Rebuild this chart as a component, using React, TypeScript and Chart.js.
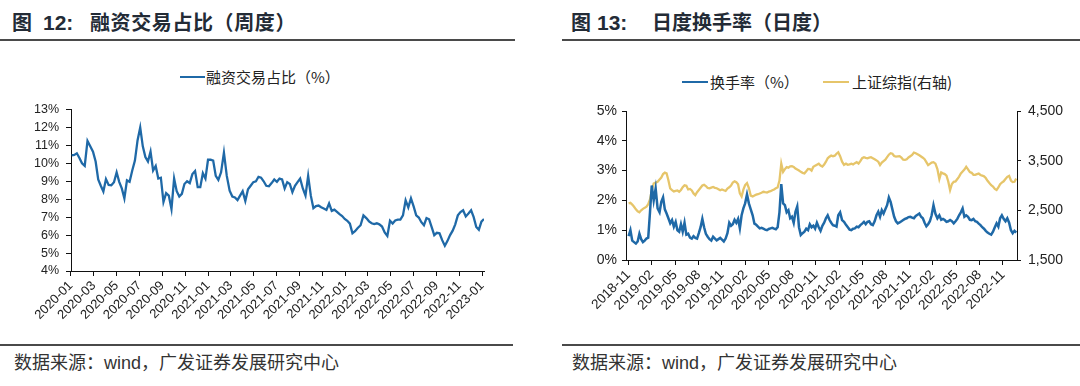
import React, { useEffect, useRef } from 'react';
import { Chart, registerables } from 'chart.js';

Chart.register(...registerables);

// ---------- Left chart: 融资交易占比（周度） ----------
const LEFT_START = '2020-01-03';
const LEFT_TICK_LABELS = [
  '2020-01', '2020-03', '2020-05', '2020-07', '2020-09', '2020-11',
  '2021-01', '2021-03', '2021-05', '2021-07', '2021-09', '2021-11',
  '2022-01', '2022-03', '2022-05', '2022-07', '2022-09', '2022-11', '2023-01',
];
const marginShare = [
  10.45, 10.47, 10.56, 10.3, 10.0, 9.86, 11.25, 10.95, 10.65, 10.1,
  9.1, 8.75, 8.43, 9.12, 8.8, 8.78, 8.95, 9.5, 8.97, 8.6,
  8.05, 9.05, 8.97, 9.6, 10.15, 11.29, 12.0, 10.95, 10.35, 10.1,
  10.65, 9.6, 9.85, 9.15, 9.2, 7.85, 8.34, 8.2, 7.45, 9.15,
  8.45, 8.15, 8.3, 8.85, 9.0, 8.9, 9.4, 9.57, 8.67, 8.67,
  9.45, 9.15, 10.2, 10.2, 10.15, 9.3, 9.08, 9.5, 10.6, 9.3,
  8.48, 8.15, 8.1, 7.95, 8.2, 8.45, 7.9, 8.55, 8.75, 8.95,
  9.0, 9.25, 9.2, 9.0, 8.75, 8.72, 8.9, 9.1, 8.97, 9.15,
  9.1, 8.6, 8.95, 8.85, 8.4, 8.75, 8.95, 9.15, 8.6, 8.2,
  9.3, 8.2, 7.5, 7.62, 7.65, 7.55, 7.48, 7.4, 7.76, 7.35,
  7.42, 7.3, 7.17, 7.06, 6.9, 6.8, 6.64, 6.1, 6.22, 6.4,
  6.55, 7.1, 6.95, 6.77, 6.66, 6.62, 6.66, 6.6, 6.48, 6.15,
  5.95, 6.8, 6.65, 6.82, 6.86, 6.86, 7.1, 7.94, 7.55, 8.05,
  7.6, 7.1, 6.98, 6.72, 6.55, 6.95, 6.88, 6.45, 6.0, 6.13,
  6.1, 5.72, 5.41, 5.68, 6.0, 6.25, 6.6, 7.1, 7.28, 7.38,
  7.04, 7.2, 7.38, 7.0, 6.45, 6.3, 6.75, 6.9,
];
const LEFT_Y_TICKS = [4, 5, 6, 7, 8, 9, 10, 11, 12, 13];

// ---------- Right chart: 日度换手率（日度） ----------
const RIGHT_START = '2018-11-02';
const RIGHT_TICK_LABELS = [
  '2018-11', '2019-02', '2019-05', '2019-08', '2019-11', '2020-02',
  '2020-05', '2020-08', '2020-11', '2021-02', '2021-05', '2021-08',
  '2021-11', '2022-02', '2022-05', '2022-08', '2022-11',
];
const turnover = [
  0.8, 1.0, 0.65, 0.6, 0.55, 0.62, 0.88, 0.7, 0.6, 0.65,
  0.72, 0.75, 1.6, 2.5, 2.0, 2.4, 1.73, 1.6, 1.95, 2.1,
  1.7, 1.56, 1.4, 1.23, 1.34, 1.12, 1.28, 1.0, 0.95, 1.2,
  0.95, 1.25, 0.85, 0.88, 0.75, 0.72, 0.8, 0.74, 0.72, 0.9,
  1.1, 1.38, 1.1, 0.88, 0.78, 0.7, 0.65, 0.78, 0.72, 0.66,
  0.7, 0.74, 0.68, 0.62, 0.72, 0.9, 1.25, 1.15, 1.2, 1.35,
  1.25, 1.38, 1.06, 1.5, 1.73, 1.9, 2.2, 1.9, 1.7, 1.5,
  1.22, 1.18, 1.12, 1.06, 1.08, 1.05, 1.02, 1.0, 1.04, 1.06,
  1.08, 1.05, 1.03, 1.1, 1.6, 2.55, 1.9, 1.84, 1.6, 1.67,
  1.4, 1.45, 1.25, 1.62, 1.8, 1.1, 0.84, 0.9, 0.95, 1.05,
  1.0, 1.2, 1.1, 1.15, 1.05, 1.25, 1.1, 0.98, 1.15, 1.25,
  1.4, 1.5, 1.35, 1.25, 1.17, 1.15, 1.12, 1.5, 1.6, 1.34,
  1.28, 1.18, 1.1, 1.02, 1.0, 1.05, 1.06, 1.12, 1.1, 1.17,
  1.22, 1.28, 1.2, 1.28, 1.3, 1.2, 1.17, 1.3, 1.5, 1.62,
  1.45, 1.67, 1.56, 1.7, 1.84, 2.1, 1.95, 1.7, 1.45, 1.3,
  1.23, 1.26, 1.3, 1.34, 1.38, 1.4, 1.44, 1.45, 1.42, 1.4,
  1.48, 1.52, 1.56, 1.45, 1.4, 1.25, 1.13, 1.2, 1.3, 1.5,
  1.84, 1.55, 1.4, 1.5, 1.35, 1.38, 1.34, 1.28, 1.3, 1.34,
  1.3, 1.23, 1.3, 1.38, 1.5, 1.6, 1.73, 1.45, 1.5, 1.45,
  1.35, 1.34, 1.38, 1.3, 1.28, 1.22, 1.17, 1.1, 1.05, 0.98,
  0.92, 0.88, 0.85, 0.95, 1.1, 1.23, 1.12, 1.4, 1.5, 1.38,
  1.3, 1.4, 1.25, 1.0, 0.9, 0.98, 0.92,
];
const sseComposite = [
  2640, 2650, 2615, 2572, 2520, 2480, 2462, 2500, 2530, 2550,
  2575, 2625, 2720, 2900, 3040, 3058, 3075, 3120, 3160, 3230,
  3260, 3245, 3107, 2940, 2906, 2880, 2890, 2900, 2875, 2910,
  2965, 3005, 2994, 2920, 2930, 2900, 2840, 2806, 2865, 2910,
  2955, 3000, 3015, 2990, 2950, 2942, 2958, 2970, 2953, 2945,
  2925, 2905, 2920, 2905, 2890, 2940, 2965, 3000, 3060, 3085,
  3065, 3025, 2840, 2780, 2915, 3010, 3050, 2950, 2795, 2780,
  2800, 2815, 2825, 2840, 2855, 2873, 2865, 2860, 2875, 2885,
  2905, 2920, 2945, 2960, 3100, 3440, 3275, 3330, 3370, 3360,
  3385, 3390, 3375, 3340, 3320, 3300, 3275, 3255, 3245, 3288,
  3335, 3330, 3300, 3375, 3400, 3420, 3440, 3400, 3380, 3420,
  3480, 3548, 3580, 3605, 3590, 3600, 3640, 3670, 3590, 3480,
  3415, 3440, 3418, 3425, 3440, 3425, 3450, 3470, 3442, 3490,
  3550, 3570, 3556, 3548, 3560, 3570, 3550, 3530, 3505, 3480,
  3410, 3460, 3490, 3520, 3570, 3620, 3650, 3640, 3594, 3580,
  3585, 3590, 3560, 3520, 3515, 3529, 3565, 3590, 3615, 3663,
  3650, 3630, 3610, 3585, 3560, 3530, 3470, 3409, 3435, 3460,
  3470, 3440, 3330, 3130, 3262, 3245, 3230, 3200, 3080, 2906,
  3030, 3074, 3082, 3130, 3180, 3241, 3280, 3320, 3375, 3325,
  3270, 3255, 3215, 3215, 3230, 3241, 3212, 3200, 3185, 3150,
  3095, 3050, 3007, 2980, 2930, 2910, 2960, 3025, 3060, 3085,
  3130, 3175, 3194, 3100, 3070, 3075, 3140,
];
const RIGHT_Y_TICKS = [0, 1, 2, 3, 4, 5];
const RIGHT_Y1_TICKS = [1500, 2500, 3500, 4500];

// ---------- helpers ----------
const BLUE = '#1f69a7';
const GOLD = '#e6c56a';
const TICK_FONT = "'Liberation Sans', Arial, sans-serif";
const CJK_FONT = "'Noto Sans CJK SC', 'Noto Sans', sans-serif";

function weeklyDates(start: string, n: number): string[] {
  const [y, m, d] = start.split('-').map(Number);
  const out: string[] = [];
  for (let i = 0; i < n; i++) {
    const dt = new Date(Date.UTC(y, m - 1, d + 7 * i));
    out.push(dt.toISOString().slice(0, 10));
  }
  return out;
}

// fractional months since base 'YYYY-MM'
function monthsSince(base: string, date: string): number {
  const [by, bm] = base.split('-').map(Number);
  const parts = date.split('-').map(Number);
  const y = parts[0], m = parts[1], d = parts[2] || 1;
  const dim = new Date(Date.UTC(y, m, 0)).getUTCDate();
  return (y - by) * 12 + (m - bm) + (d - 1) / dim;
}

function axisBase(extra: any = {}) {
  return {
    grid: { drawOnChartArea: false, drawTicks: true, tickLength: 5, color: '#111', lineWidth: 1 },
    border: { display: true, color: '#111', width: 1 },
    ...extra,
  };
}

function makeLeft(canvas: HTMLCanvasElement) {
  const base = LEFT_TICK_LABELS[0];
  const dates = weeklyDates(LEFT_START, marginShare.length);
  const xs = dates.map((d) => monthsSince(base, d));
  const tickVals = LEFT_TICK_LABELS.map((l) => monthsSince(base, l));
  return new Chart(canvas, {
    type: 'line',
    data: {
      datasets: [
        {
          label: '融资交易占比（%）',
          data: marginShare.map((v, i) => ({ x: xs[i], y: v })),
          borderColor: BLUE,
          backgroundColor: BLUE,
          borderWidth: 2.3,
          pointRadius: 0,
          tension: 0,
        },
      ],
    },
    options: {
      responsive: false,
      animation: false,
      layout: { padding: { top: 10, right: 56, left: 0, bottom: 0 } },
      plugins: { legend: { display: false }, tooltip: { enabled: false } },
      scales: {
        x: axisBase({
          type: 'linear',
          min: xs[0] - 0.06,
          max: xs[xs.length - 1],
          afterBuildTicks: (s: any) => {
            s.ticks = tickVals.map((v) => ({ value: v }));
          },
          afterFit: (s: any) => {
            s.height = 69;
          },
          ticks: {
            autoSkip: false,
            minRotation: 45,
            maxRotation: 45,
            padding: 2,
            color: '#222',
            font: { family: TICK_FONT, size: 13 },
            callback: (_v: any, i: number) => LEFT_TICK_LABELS[i],
          },
        }),
        y: axisBase({
          min: LEFT_Y_TICKS[0],
          max: LEFT_Y_TICKS[LEFT_Y_TICKS.length - 1],
          afterBuildTicks: (s: any) => {
            s.ticks = LEFT_Y_TICKS.map((v) => ({ value: v }));
          },
          afterFit: (s: any) => {
            s.width = 71;
          },
          ticks: {
            autoSkip: false,
            padding: 7,
            color: '#222',
            font: { family: TICK_FONT, size: 12.5 },
            callback: (v: any) => `${v}%`,
          },
        }),
      },
    },
  } as any);
}

function makeRight(canvas: HTMLCanvasElement) {
  const base = RIGHT_TICK_LABELS[0];
  const dates = weeklyDates(RIGHT_START, turnover.length);
  const xs = dates.map((d) => monthsSince(base, d));
  const tickVals = RIGHT_TICK_LABELS.map((l) => monthsSince(base, l));
  return new Chart(canvas, {
    type: 'line',
    data: {
      datasets: [
        {
          label: '换手率（%）',
          data: turnover.map((v, i) => ({ x: xs[i], y: v })),
          borderColor: BLUE,
          backgroundColor: BLUE,
          borderWidth: 2.5,
          pointRadius: 0,
          tension: 0,
          yAxisID: 'y',
        },
        {
          label: '上证综指(右轴)',
          data: sseComposite.map((v, i) => ({ x: xs[i], y: v })),
          borderColor: GOLD,
          backgroundColor: GOLD,
          borderWidth: 2.3,
          pointRadius: 0,
          tension: 0,
          yAxisID: 'y1',
        },
      ],
    },
    options: {
      responsive: false,
      animation: false,
      layout: { padding: { top: 16, right: 0, left: 0, bottom: 0 } },
      plugins: { legend: { display: false }, tooltip: { enabled: false } },
      scales: {
        x: axisBase({
          type: 'linear',
          min: -0.3,
          max: xs[xs.length - 1] + 0.1,
          afterBuildTicks: (s: any) => {
            s.ticks = tickVals.map((v) => ({ value: v }));
          },
          afterFit: (s: any) => {
            s.height = 80;
          },
          ticks: {
            autoSkip: false,
            minRotation: 45,
            maxRotation: 45,
            padding: 2,
            color: '#222',
            font: { family: TICK_FONT, size: 13.5 },
            callback: (_v: any, i: number) => RIGHT_TICK_LABELS[i],
          },
        }),
        y: axisBase({
          position: 'left',
          min: RIGHT_Y_TICKS[0],
          max: RIGHT_Y_TICKS[RIGHT_Y_TICKS.length - 1],
          afterBuildTicks: (s: any) => {
            s.ticks = RIGHT_Y_TICKS.map((v) => ({ value: v }));
          },
          afterFit: (s: any) => {
            s.width = 86;
          },
          grid: { drawOnChartArea: false, drawTicks: true, tickLength: 4, color: '#111' },
          ticks: {
            autoSkip: false,
            padding: 5,
            color: '#222',
            font: { family: TICK_FONT, size: 14 },
            callback: (v: any) => `${v}%`,
          },
        }),
        y1: axisBase({
          position: 'right',
          min: RIGHT_Y1_TICKS[0],
          max: RIGHT_Y1_TICKS[RIGHT_Y1_TICKS.length - 1],
          afterBuildTicks: (s: any) => {
            s.ticks = RIGHT_Y1_TICKS.map((v) => ({ value: v }));
          },
          afterFit: (s: any) => {
            s.width = 63;
          },
          grid: { drawOnChartArea: false, drawTicks: true, tickLength: 4, color: '#111' },
          ticks: {
            autoSkip: false,
            padding: 7,
            color: '#222',
            font: { family: TICK_FONT, size: 14 },
            callback: (v: any) => Number(v).toLocaleString('en-US'),
          },
        }),
      },
    },
  } as any);
}

const abs = (o: React.CSSProperties): React.CSSProperties => ({ position: 'absolute', ...o });

export default function App() {
  const leftRef = useRef<HTMLCanvasElement>(null);
  const rightRef = useRef<HTMLCanvasElement>(null);

  useEffect(() => {
    const a = leftRef.current ? makeLeft(leftRef.current) : null;
    const b = rightRef.current ? makeRight(rightRef.current) : null;
    return () => {
      a?.destroy();
      b?.destroy();
    };
  }, []);

  const titleColor = '#232b36';
  const titleCJK: React.CSSProperties = {
    fontFamily: CJK_FONT, fontWeight: 700, fontSize: 20, lineHeight: '20px', color: titleColor, whiteSpace: 'nowrap',
  };
  const titleNum: React.CSSProperties = {
    fontFamily: TICK_FONT, fontWeight: 700, fontSize: 21, lineHeight: '20px', color: titleColor, whiteSpace: 'nowrap',
  };
  const legendText: React.CSSProperties = {
    fontFamily: CJK_FONT, fontSize: 15, lineHeight: '15px', color: '#222', whiteSpace: 'nowrap',
  };
  const srcText: React.CSSProperties = {
    fontFamily: `${TICK_FONT.split(',')[0]}, ${CJK_FONT}`, fontSize: 18, lineHeight: '18px', color: '#333', whiteSpace: 'nowrap',
  };
  const rule: React.CSSProperties = { height: 2, background: '#4a4a4a' };

  return (
    <div style={abs({ left: 0, top: 0, width: 1080, height: 386, background: '#fff', overflow: 'hidden' })}>
      {/* Left panel */}
      <div style={abs({ ...titleCJK, left: 12, top: 12 })}>图</div>
      <div style={abs({ ...titleNum, left: 43, top: 13 })}>12:</div>
      <div style={abs({ ...titleCJK, left: 90, top: 12, letterSpacing: 0.6 })}>融资交易占比（周度）</div>
      <div style={abs({ ...rule, left: 0, top: 39, width: 515 })} />

      <div style={abs({ left: 180, top: 76, width: 25, height: 2, background: BLUE })} />
      <div style={abs({ ...legendText, left: 206, top: 69 })}>融资交易占比（%）</div>

      <canvas ref={leftRef} width={540} height={245} style={abs({ left: 0, top: 95, width: 540, height: 245 })} />

      <div style={abs({ ...rule, left: 0, top: 344, width: 513 })} />
      <div style={abs({ ...srcText, left: 14, top: 354 })}>数据来源：wind，广发证券发展研究中心</div>

      {/* Right panel */}
      <div style={abs({ ...titleCJK, left: 571, top: 12 })}>图</div>
      <div style={abs({ ...titleNum, left: 597, top: 13 })}>13:</div>
      <div style={abs({ ...titleCJK, left: 652, top: 12, letterSpacing: 0 })}>日度换手率（日度）</div>
      <div style={abs({ ...rule, left: 562, top: 39, width: 518 })} />

      <div style={abs({ left: 682, top: 81, width: 26, height: 2, background: BLUE })} />
      <div style={abs({ ...legendText, left: 710, top: 74 })}>换手率（%）</div>
      <div style={abs({ left: 823, top: 81, width: 26, height: 2, background: GOLD })} />
      <div style={abs({ ...legendText, left: 852, top: 74 })}>上证综指(右轴)</div>

      <canvas ref={rightRef} width={540} height={245} style={abs({ left: 540, top: 95, width: 540, height: 245 })} />

      <div style={abs({ ...rule, left: 562, top: 344, width: 518 })} />
      <div style={abs({ ...srcText, left: 572, top: 354 })}>数据来源：wind，广发证券发展研究中心</div>
    </div>
  );
}
